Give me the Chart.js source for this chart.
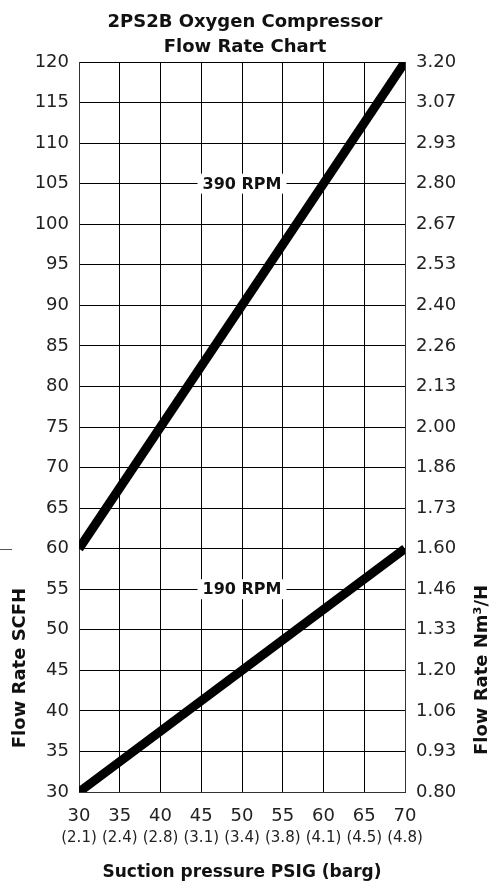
<!DOCTYPE html>
<html lang="en">
<head>
  <meta charset="UTF-8" />
  <title>2PS2B Oxygen Compressor Flow Rate Chart</title>
  <script src="https://cdn.jsdelivr.net/npm/chart.js"></script>
  <style>
    body { margin: 0; background: #fff; }
    .chart-container { width: 492px; height: 886px; position: relative; }
  </style>
</head>
<body>
  <div class="chart-container"><canvas id="flowChart"></canvas></div>

  <script>
    // data
    const psigTicks = [30, 35, 40, 45, 50, 55, 60, 65, 70];
    const bargLabels = ['(2.1)', '(2.4)', '(2.8)', '(3.1)', '(3.4)', '(3.8)', '(4.1)', '(4.5)', '(4.8)'];
    const scfhTicks = [30, 35, 40, 45, 50, 55, 60, 65, 70, 75, 80, 85, 90, 95, 100, 105, 110, 115, 120];
    const nm3Labels = ['0.80', '0.93', '1.06', '1.20', '1.33', '1.46', '1.60', '1.73', '1.86', '2.00',
                       '2.13', '2.26', '2.40', '2.53', '2.67', '2.80', '2.93', '3.07', '3.20'];
    const rpm390 = [{ x: 30, y: 60 }, { x: 70, y: 120 }];
    const rpm190 = [{ x: 30, y: 30 }, { x: 70, y: 60 }];
    const rpmLabels = [
      { text: '390 RPM', x: 50, y: 105 },
      { text: '190 RPM', x: 50, y: 55 }
    ];

    const tickFont = { family: 'DejaVu Sans', size: 18 };
    const boldFont = 'bold 16px "DejaVu Sans"';

    const decor = {
      id: 'decor',
      afterDatasetsDraw(chart) {
        const { ctx, scales } = chart;
        const xs = scales.x, ys = scales.y;
        ctx.save();
        ctx.fillStyle = '#111';
        ctx.textAlign = 'center';
        ctx.textBaseline = 'middle';

        // RPM labels on white boxes
        ctx.font = boldFont;
        rpmLabels.forEach(l => {
          const px = xs.getPixelForValue(l.x);
          const py = ys.getPixelForValue(l.y);
          const w = ctx.measureText(l.text).width + 10;
          ctx.fillStyle = '#fff';
          ctx.fillRect(px - w / 2, py - 10, w, 20);
          ctx.fillStyle = '#111';
          ctx.fillText(l.text, px, py + 1);
        });

        // title
        ctx.font = 'bold 18px "DejaVu Sans"';
        ctx.fillText('2PS2B Oxygen Compressor', 245, 22);
        ctx.fillText('Flow Rate Chart', 245, 47);

        // x title
        ctx.font = 'bold 17px "DejaVu Sans"';
        ctx.fillText('Suction pressure PSIG (barg)', 242, 873);

        // y titles
        ctx.font = 'bold 18px "DejaVu Sans"';
        ctx.save();
        ctx.translate(20, 668);
        ctx.rotate(-Math.PI / 2);
        ctx.fillText('Flow Rate SCFH', 0, 0);
        ctx.restore();
        ctx.save();
        ctx.translate(482, 670);
        ctx.rotate(-Math.PI / 2);
        ctx.fillText('Flow Rate Nm³/H', 0, 0);
        ctx.restore();

        // small stub at the 60 mark on the far left
        const y60 = Math.round(ys.getPixelForValue(60)) + 0.5;
        ctx.strokeStyle = '#555';
        ctx.lineWidth = 1;
        ctx.beginPath();
        ctx.moveTo(0, y60);
        ctx.lineTo(12, y60);
        ctx.stroke();
        ctx.restore();
      }
    };

    const lineStyle = {
      borderColor: '#000',
      borderWidth: 9,
      borderCapStyle: 'butt',
      pointRadius: 0,
      fill: false,
      tension: 0,
      clip: 0
    };

    new Chart(document.getElementById('flowChart'), {
      type: 'line',
      data: {
        datasets: [
          Object.assign({ label: '390 RPM', data: rpm390 }, lineStyle),
          Object.assign({ label: '190 RPM', data: rpm190 }, lineStyle)
        ]
      },
      options: {
        animation: false,
        responsive: true,
        maintainAspectRatio: false,
        layout: { padding: { top: 62, bottom: 40, left: 0, right: 0 } },
        plugins: { legend: { display: false }, tooltip: { enabled: false } },
        scales: {
          x: {
            type: 'linear', position: 'bottom', min: 30, max: 70, weight: 0,
            afterBuildTicks: s => { s.ticks = psigTicks.map(v => ({ value: v })); },
            afterFit: s => { s.height = 32; },
            grid: { color: '#000', lineWidth: 1, drawTicks: false },
            border: { color: '#333', width: 1 },
            ticks: { font: tickFont, color: '#222', padding: 14, maxRotation: 0 }
          },
          x2: {
            type: 'linear', position: 'bottom', min: 30, max: 70, weight: 1,
            afterBuildTicks: s => { s.ticks = psigTicks.map(v => ({ value: v })); },
            afterFit: s => { s.height = 22; },
            grid: { display: false, drawTicks: false },
            border: { display: false },
            ticks: {
              font: { family: 'DejaVu Sans', size: 15 }, color: '#222', padding: 5, maxRotation: 0,
              callback: (v, i) => bargLabels[i]
            }
          },
          y: {
            type: 'linear', position: 'left', min: 30, max: 120,
            afterBuildTicks: s => { s.ticks = scfhTicks.map(v => ({ value: v })); },
            afterFit: s => { s.width = 79; },
            grid: { color: '#000', lineWidth: 1, drawTicks: false },
            border: { color: '#333', width: 1 },
            ticks: { font: tickFont, color: '#222', padding: 10 }
          },
          y2: {
            type: 'linear', position: 'right', min: 30, max: 120,
            afterBuildTicks: s => { s.ticks = scfhTicks.map(v => ({ value: v })); },
            afterFit: s => { s.width = 87; },
            grid: { display: false, drawTicks: false },
            border: { color: '#333', width: 1 },
            ticks: { font: tickFont, color: '#222', padding: 11, callback: (v, i) => nm3Labels[i] }
          }
        }
      },
      plugins: [decor]
    });
  </script>
</body>
</html>
